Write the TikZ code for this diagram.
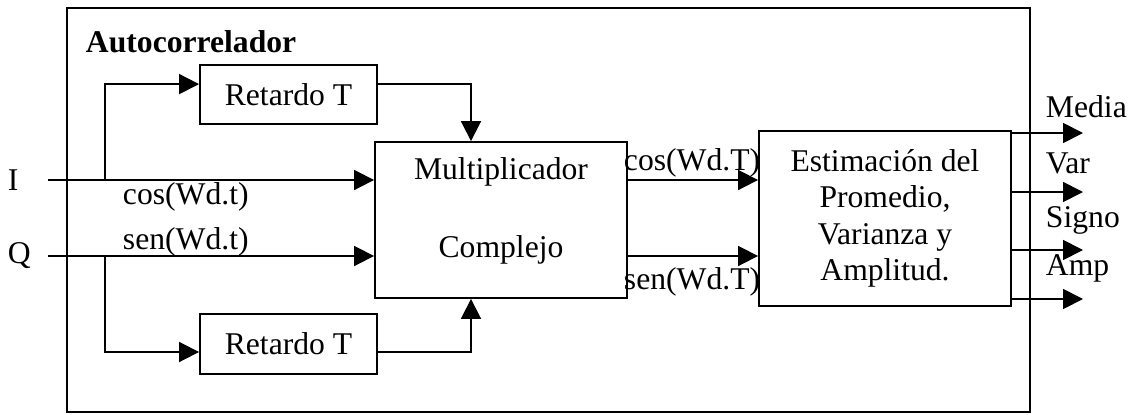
\documentclass[tikz,border=0pt]{standalone}
\usepackage{fontspec}
\setmainfont{Liberation Serif}
\usetikzlibrary{arrows.meta,positioning}

\begin{document}
\begin{tikzpicture}[x=0.025cm,y=-0.025cm,
    every node/.style={font=\fontsize{22.5}{26}\selectfont},
    blk/.style={draw,line width=1.3pt,inner sep=0pt},
    ln/.style={line width=1.3pt},
    arr/.style={line width=1.3pt,-{Triangle[length=0.5cm,width=0.5cm]}}]
      \useasboundingbox (0,0) rectangle (1129,414);
      \draw[ln] (67,8) rectangle (1030,412);
      \node[anchor=west,font=\fontsize{22.5}{26}\selectfont\bfseries] (titulo) at (81,42) {Autocorrelador};
      % bloques
      \node[blk,minimum width=4.425cm,minimum height=1.475cm] (ret1) at (288.5,94.5) {Retardo T};
      \node[blk,minimum width=4.425cm,minimum height=1.5cm] (ret2) at (288.5,344) {Retardo T};
      \node[blk,minimum width=6.3cm,minimum height=3.9cm] (mult) at (501,220) {};
      \node (multa) at (501,172) {Multiplicador};
      \node (multb) at (501,250) {Complejo};
      \node[blk,minimum width=6.3cm,minimum height=4.375cm,align=center] (est) at (885,218.5)
          {Estimación del\\Promedio,\\Varianza y\\Amplitud.};
      % entradas
      \node[anchor=west] (ei) at (3,180) {I};
      \node[anchor=west] (eq) at (3,256) {Q};
      \coordinate (i0) at (48,180);
      \coordinate (q0) at (48,256);
      \coordinate (ib) at (105,180);
      \coordinate (qb) at (105,256);
      \draw[arr] (i0) -- (mult.west |- i0);
      \draw[arr] (q0) -- (mult.west |- q0);
      \draw[arr] (ib) |- ([yshift=0.26cm]ret1.west);
      \draw[arr] (qb) |- ([yshift=-0.2cm]ret2.west);
      \draw[arr] ([yshift=0.26cm]ret1.east) -| ([xshift=-0.75cm]mult.north);
      \draw[arr] ([yshift=-0.2cm]ret2.east) -| ([xshift=-0.75cm]mult.south);
      \node[anchor=west] (lcos) at (118,197) {cos(Wd.t)};
      \node[anchor=west] (lsen) at (118,242) {sen(Wd.t)};
      % salidas del multiplicador
      \draw[arr] (mult.east |- i0) -- (est.west |- i0);
      \draw[arr] (mult.east |- q0) -- (est.west |- q0);
      \node[anchor=west] (lcosT) at (619,163) {cos(Wd.T)};
      \node[anchor=west] (lsenT) at (619,282) {sen(Wd.T)};
      % salidas del estimador
      \foreach \yy/\nm/\txt/\ty in {133/om/Media/107, 192/ov/Var/163, 250/os/Signo/220, 299/oa/Amp/268}{
          \coordinate (\nm) at (1083,\yy);
          \draw[arr] (est.east |- \nm) -- (\nm);
          \node[anchor=west] (t\nm) at (1041,\ty) {\txt};
      }
\end{tikzpicture}
\end{document}
